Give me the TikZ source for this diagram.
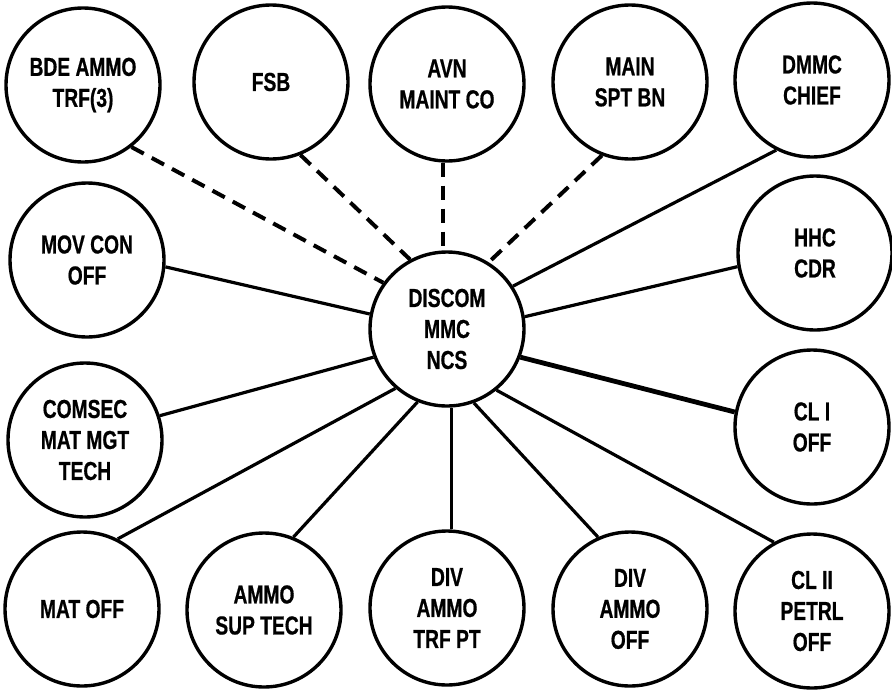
\documentclass[tikz,border=0pt]{standalone}
\usepackage{fontspec}
\newfontfamily\officefont{Liberation Sans}[FakeStretch=0.74, FakeBold=0.6]

\begin{document}
\begin{tikzpicture}[x=10pt, y=-10pt,
    office/.style={draw, circle, line width=3.4pt, minimum size=154pt, inner sep=0pt,
        align=center, font=\officefont\bfseries\fontsize{26}{31}\selectfont},
    link/.style={line width=3.2pt},
    radio/.style={line width=4pt, dash pattern=on 14pt off 9pt}]
    \useasboundingbox (0,0) rectangle (89.2,68.9);

    % top row
    \node[office] (bde)  at (8.3,8.5)  {BDE AMMO\\TRF(3)};
    \node[office] (fsb)  at (27.1,8.2) {FSB};
    \node[office] (avn)  at (44.7,8.4) {AVN\\MAINT CO};
    \node[office] (main) at (63.0,8.2) {MAIN\\SPT BN};
    \node[office] (dmmc) at (81.2,8.0) {DMMC\\CHIEF};
    % sides
    \node[office] (movcon) at (8.7,26.0) {MOV CON\\OFF};
    \node[office] (hhc)    at (81.5,25.3) {HHC\\CDR};
    \node[office] (comsec) at (8.5,44.0) {COMSEC\\MAT MGT\\TECH};
    \node[office] (cli)    at (81.2,42.7) {CL I\\OFF};
    % bottom row
    \node[office] (mat)  at (8.2,60.9)  {MAT OFF};
    \node[office] (ast)  at (26.4,61.0) {AMMO\\SUP TECH};
    \node[office] (trf)  at (44.7,60.8) {DIV\\AMMO\\TRF PT};
    \node[office] (dao)  at (63.0,60.9) {DIV\\AMMO\\OFF};
    \node[office] (clii) at (81.2,61.1) {CL II\\PETRL\\OFF};

    \node[office] (discom) at (44.7,32.9) {DISCOM\\MMC\\NCS};

    % dashed links
    \foreach \n/\a/\b in {bde/-52/144, fsb/-68/118, avn/-93/93, main/-111/58}
        {\draw[radio] (\n.\a) -- (discom.\b);}
    % solid links
    \foreach \n/\a/\b in {dmmc/-117/33, hhc/-170/9, clii/119/-51, dao/114/-70,
        trf/87/-87, ast/68/-112, mat/63/-131, comsec/18/-159, movcon/-5/169}
        {\draw[link] (\n.\a) -- (discom.\b);}
    \draw[line width=4.8pt] (cli.169) -- (discom.-21);
\end{tikzpicture}
\end{document}
